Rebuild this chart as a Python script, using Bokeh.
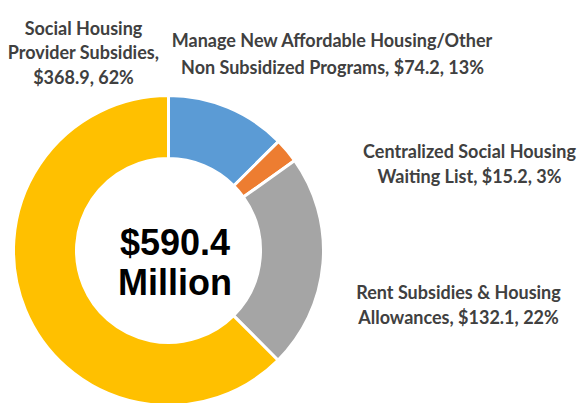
from bokeh.plotting import figure
from bokeh.models import Range1d, ColumnDataSource
from bokeh.core.properties import value
from bokeh.embed import file_html
from bokeh.resources import INLINE
import numpy as np

# ---- data ----
categories = [
    "Manage New Affordable Housing/Other Non Subsidized Programs",
    "Centralized Social Housing Waiting List",
    "Rent Subsidies & Housing Allowances",
    "Social Housing Provider Subsidies",
]
amounts = [74.2, 15.2, 132.1, 368.9]
percents = [13, 3, 22, 62]
colors = ["#5B9BD5", "#ED7D31", "#A5A5A5", "#FFC000"]
label_lines = [
    ["Manage New Affordable Housing/Other", "Non Subsidized Programs, $74.2, 13%"],
    ["Centralized Social Housing", "Waiting List, $15.2, 3%"],
    ["Rent Subsidies & Housing", "Allowances, $132.1, 22%"],
    ["Social Housing", "Provider Subsidies,", "$368.9, 62%"],
]
total_label = ["$590.4", "Million"]

# ---- layout (page pixel coordinates) ----
W, H = 584, 403
def Y(py):
    return H - py

cx, cy = 168, Y(250)
r_in, r_out = 92, 155
label_pos = [  # (center x, first baseline y, line step)
    (332, 39.5, 26.5),
    (469, 150.5, 24.5),
    (458, 291.5, 25.0),
    (83, 27.0, 24.5),
]

p = figure(width=W, height=H, output_backend="svg", toolbar_location=None,
           x_range=Range1d(0, W), y_range=Range1d(0, H),
           min_border=0)
p.axis.visible = False
p.grid.visible = False
p.outline_line_color = None
p.background_fill_color = "white"
p.border_fill_color = "white"

total = sum(amounts)
cum = np.cumsum([0] + amounts)
starts = [np.pi / 2 - 2 * np.pi * cum[i] / total for i in range(len(amounts))]
ends = [np.pi / 2 - 2 * np.pi * cum[i + 1] / total for i in range(len(amounts))]
src = ColumnDataSource(dict(start=starts, end=ends, color=colors, cat=categories))
p.annular_wedge(x=cx, y=cy, inner_radius=r_in, outer_radius=r_out,
                start_angle="start", end_angle="end", direction="clock",
                fill_color="color", line_color="white", line_width=3, source=src)

# labels
xs, ys, txt = [], [], []
for (lx, ly, step), lines in zip(label_pos, label_lines):
    for i, t in enumerate(lines):
        xs.append(lx)
        ys.append(Y(ly + i * step))
        txt.append(t)
p.text(x=xs, y=ys, text=txt, text_align="center", text_baseline="alphabetic",
       text_font=value("Lato"), text_font_style="bold", text_font_size="18px",
       text_color="#404040")

# center total
p.text(x=[174.5, 174.5], y=[Y(242), Y(282)], text=total_label,
       text_align="center", text_baseline="alphabetic",
       text_font=value("Liberation Sans"), text_font_style="bold",
       text_font_size="36px", text_color="#000000")

open("out.html", "w").write(file_html(p, INLINE))
